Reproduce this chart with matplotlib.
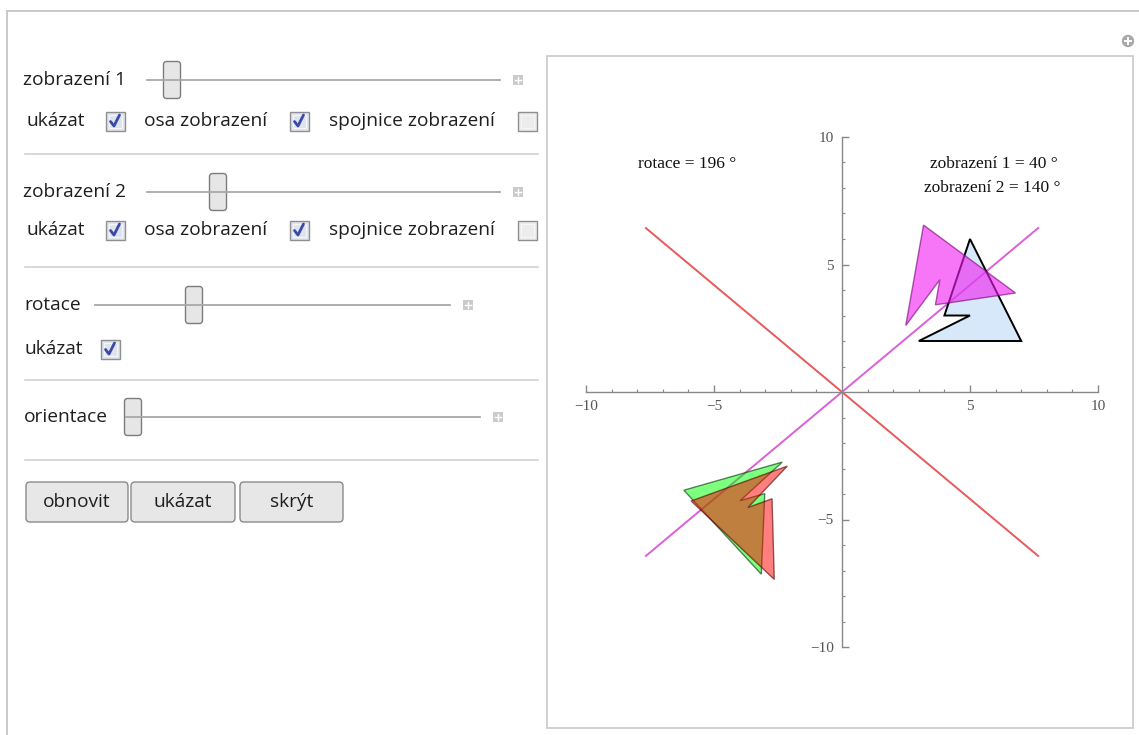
import numpy as np
from matplotlib import pyplot as plt
from matplotlib.patches import Circle, FancyBboxPatch, Polygon, Rectangle

# original figure (light blue) and the settings shown on the sliders
shape_x = [3, 7, 5, 4, 5]
shape_y = [2, 2, 6, 3, 3]
axis1_deg = 40
axis2_deg = 140
rotation_deg = 196
axis_half_len = 10

tick_values = [-10, -5, 5, 10]
tick_labels = ["\u221210", "\u22125", "5", "10"]
minor_values = [v for v in range(-10, 11) if v % 5 != 0]

slider_labels = ["zobrazení 1", "zobrazení 2", "rotace", "orientace"]
check_labels = ["ukázat", "osa zobrazení", "spojnice zobrazení"]
button_labels = ["obnovit", "ukázat", "skrýt"]


def reflect(pts, deg):
  t = np.deg2rad(2 * deg)
  m = np.array([[np.cos(t), np.sin(t)], [np.sin(t), -np.cos(t)]])
  return pts @ m.T


def rotate(pts, deg):
  t = np.deg2rad(deg)
  m = np.array([[np.cos(t), -np.sin(t)], [np.sin(t), np.cos(t)]])
  return pts @ m.T


W, H = 1139, 735
UI_FONT = "Open Sans"
UI_SIZE = 13.8
TXT = "#1e1e1e"

fig = plt.figure(figsize=(W / 100, H / 100), dpi=100)
ui = fig.add_axes([0, 0, 1, 1])
ui.set_xlim(0, W)
ui.set_ylim(H, 0)
ui.axis("off")

# outer frame and plot panel
ui.plot([7, W], [11, 11], color="#c6c6c6", lw=1.3)
ui.plot([7, 7], [11, H], color="#c6c6c6", lw=1.3)
ui.add_patch(Rectangle((547, 56), 586, 672, fc="white", ec="#cdcdcd", lw=1.3))
ui.add_patch(Circle((1128, 41), 5.5, color="#a9a9a9"))
ui.plot([1125, 1131], [41, 41], color="white", lw=1.4)
ui.plot([1128, 1128], [38, 44], color="white", lw=1.4)


def slider(label, lx, y, x0, x1, thumb_x):
  ui.text(lx, y, label, fontsize=UI_SIZE, family=UI_FONT, va="center", color=TXT)
  ui.plot([x0, x1], [y, y], color="#a8a8a8", lw=1.3)
  ui.add_patch(FancyBboxPatch((thumb_x - 8.5, y - 18.5), 17, 37,
                              boxstyle="round,pad=0,rounding_size=3",
                              fc="#e6e6e6", ec="#7c7c7c", lw=1))
  px = x1 + 18
  ui.add_patch(Rectangle((px - 5, y - 5), 10, 10, fc="#cbcbcb", ec="none"))
  ui.plot([px - 3, px + 3], [y, y], color="white", lw=1)
  ui.plot([px, px], [y - 3, y + 3], color="white", lw=1)


def checkbox(label, lx, y, cx, checked):
  ui.text(lx, y, label, fontsize=UI_SIZE, family=UI_FONT, va="center", color=TXT)
  fc = "#dfe3ef" if checked else "#ececec"
  ui.add_patch(Rectangle((cx - 9.5, y - 9.5), 19, 19, fc=fc, ec="#8f8f8f", lw=1))
  ui.add_patch(Rectangle((cx - 6.5, y - 6.5), 13, 13, fc="none", ec="#f6f6f6", lw=0.8))
  if checked:
    ui.plot([cx - 4.5, cx - 1, cx + 4.5], [y + 0.5, y + 5, y - 6],
            color="#3a4aa6", lw=2, solid_capstyle="round")


slider(slider_labels[0], 23, 80, 147, 500, 172)
slider(slider_labels[1], 23, 192, 147, 500, 218)
slider(slider_labels[2], 24, 305, 95, 450, 194)
slider(slider_labels[3], 24, 417, 126, 480, 133)

for y in (121, 230):
  checkbox(check_labels[0], 27, y, 115, True)
  checkbox(check_labels[1], 144, y, 299, True)
  checkbox(check_labels[2], 329, y, 527, False)
checkbox(check_labels[0], 24, 349, 110, True)

for y in (154, 267, 380, 460):
  ui.plot([25, 538], [y, y], color="#d2d2d2", lw=1.2)

for label, (x0, x1) in zip(button_labels, [(26, 128), (131, 235), (240, 343)]):
  ui.add_patch(FancyBboxPatch((x0, 482), x1 - x0, 40,
                              boxstyle="round,pad=0,rounding_size=4",
                              fc="#e7e7e7", ec="#8a8a8a", lw=1))
  ui.text((x0 + x1) / 2, 502, label, fontsize=UI_SIZE, family=UI_FONT,
          ha="center", va="center", color=TXT)

# plot area
ax = fig.add_axes([547 / W, 1 - 728 / H, 586 / W, 672 / H])
ax.set_xlim((547 - 842) / 25.6, (1133 - 842) / 25.6)
ax.set_ylim((392 - 728) / 25.5, (392 - 56) / 25.5)
ax.patch.set_visible(False)

for deg, col in [(axis2_deg, "#e8595b"), (axis1_deg, "#da60da")]:
  t = np.deg2rad(deg)
  ax.plot([-axis_half_len * np.cos(t), axis_half_len * np.cos(t)],
          [-axis_half_len * np.sin(t), axis_half_len * np.sin(t)],
          color=col, lw=1.4, zorder=2)

shape = np.column_stack([shape_x, shape_y]).astype(float)
img1 = reflect(shape, axis1_deg)
img2 = reflect(img1, axis2_deg)
rot = rotate(shape, rotation_deg)

ax.add_patch(Polygon(shape, closed=True, fc=(0.6, 0.78, 0.95, 0.4),
                     ec="black", lw=1.4, zorder=3))
ax.add_patch(Polygon(img1, closed=True, fc=(0.95, 0.1, 0.95, 0.6),
                     ec=(0.45, 0, 0.45, 0.6), lw=1, zorder=4))
ax.add_patch(Polygon(rot, closed=True, fc=(0, 1, 0, 0.5),
                     ec=(0, 0.2, 0, 0.6), lw=1, zorder=4))
ax.add_patch(Polygon(img2, closed=True, fc=(1, 0, 0, 0.5),
                     ec=(0.3, 0, 0, 0.6), lw=1, zorder=5))

ax.text(-6.05, 8.94, f"rotace = {rotation_deg} °", ha="center", va="center",
        family="Liberation Serif", fontsize=12.5, color="#111111")
ax.text(5.94, 8.94, f"zobrazení 1 = {axis1_deg} °", ha="center", va="center",
        family="Liberation Serif", fontsize=12.5, color="#111111")
ax.text(5.86, 8.0, f"zobrazení 2 = {axis2_deg} °", ha="center", va="center",
        family="Liberation Serif", fontsize=12.5, color="#111111")

for side in ("top", "right"):
  ax.spines[side].set_visible(False)
for side in ("left", "bottom"):
  ax.spines[side].set_position(("data", 0))
  ax.spines[side].set_bounds(-10, 10)
  ax.spines[side].set_color("#888888")
  ax.spines[side].set_linewidth(1)

ax.set_xticks(tick_values, tick_labels, fontfamily="Liberation Serif")
ax.set_yticks(tick_values, tick_labels, fontfamily="Liberation Serif")
ax.set_xticks(minor_values, minor=True)
ax.set_yticks(minor_values, minor=True)
ax.tick_params(which="major", direction="in", length=5, width=1, color="#888888",
               labelcolor="#555555", labelsize=11, pad=6)
ax.tick_params(which="minor", direction="in", length=2.5, width=0.8, color="#888888")

fig.savefig("out.png", dpi=100)
